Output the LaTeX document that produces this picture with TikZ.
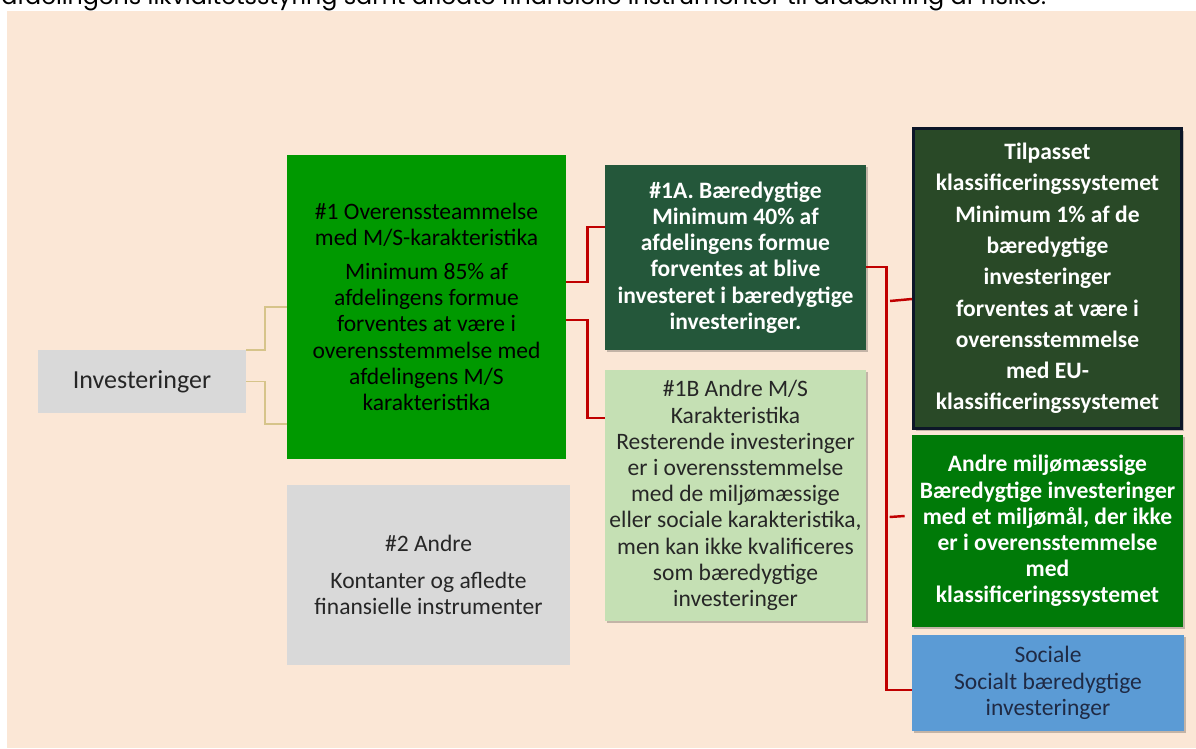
\documentclass[tikz,border=0pt]{standalone}
\usepackage{fontspec}
\setmainfont{Carlito}
\newfontfamily\topfont{Poppins}
\usetikzlibrary{shadows}
\definecolor{cream}{RGB}{251,231,214}
\definecolor{greyc}{RGB}{217,217,217}
\definecolor{greenone}{RGB}{0,153,0}
\definecolor{greenoneA}{RGB}{36,87,58}
\definecolor{greenoneB}{RGB}{197,224,180}
\definecolor{taxc}{RGB}{41,73,39}
\definecolor{navyc}{RGB}{12,22,40}
\definecolor{envc}{RGB}{0,122,8}
\definecolor{socc}{RGB}{91,155,213}
\definecolor{tanc}{RGB}{214,196,138}
\definecolor{redc}{RGB}{192,0,0}
\definecolor{textc}{RGB}{38,38,38}
\definecolor{navytext}{RGB}{31,42,68}
\begin{document}
\begin{tikzpicture}[x=0.02cm,y=-0.02cm,
    box/.style={inner sep=0pt,align=center,text=textc,font=\fontsize{13.4}{14.9}\selectfont},
    whitebox/.style={box,text=white,font=\fontsize{13.4}{14.9}\selectfont\bfseries},
    shade/.style={drop shadow={shadow xshift=1.2pt,shadow yshift=-1.2pt,opacity=0.22,fill=black}},
    tanline/.style={draw=tanc,line width=1.1pt},
    redline/.style={draw=redc,line width=1.4pt}]
    \useasboundingbox (0,0) rectangle (1196,749);
    \fill[white] (0,0) rectangle (1196,749);
    \fill[cream] (7,11) rectangle (1196,748);
    \node[anchor=base west,inner sep=0pt] (note) at (1,5) {\resizebox{20.9cm}{!}{\topfont afdelingens likviditetsstyring samt afledte finansielle instrumenter til afdækning af risiko.}};

    \node[box,fill=greyc,minimum width=4.16cm,minimum height=1.26cm,font=\fontsize{14.8}{17}\selectfont] (invest) at (142,381.5) {Investeringer};
    \node[box,fill=greenone,text=black,minimum width=5.58cm,minimum height=6.08cm] (one) at (426.5,307) {\#1 Overenssteammelse\\med M/S-karakteristika\\[4.3pt]Minimum 85\% af\\afdelingens formue\\forventes at være i\\overensstemmelse med\\afdelingens M/S\\karakteristika};
    \node[box,fill=greyc,minimum width=5.66cm,minimum height=3.6cm] (two) at (428.5,575) {\#2 Andre\\[5.7pt]Kontanter og afledte\\finansielle instrumenter};
    \node[whitebox,shade,fill=greenoneA,minimum width=5.22cm,minimum height=3.7cm] (oneA) at (735.5,257.5) {\#1A. Bæredygtige\\Minimum 40\% af\\afdelingens formue\\forventes at blive\\investeret i bæredygtige\\investeringer.};
    \node[box,shade,fill=greenoneB,minimum width=5.22cm,minimum height=5.02cm] (oneB) at (735.5,495.5) {\#1B Andre M/S\\Karakteristika\\Resterende investeringer\\er i overensstemmelse\\med de miljømæssige\\eller sociale karakteristika,\\men kan ikke kvalificeres\\som bæredygtige\\investeringer};
    \node[whitebox,shade,fill=taxc,draw=navyc,line width=1.7pt,minimum width=5.36cm,minimum height=6.0cm,font=\fontsize{13.4}{17.8}\selectfont\bfseries] (tax) at (1047.5,278.5) {Tilpasset\\klassificeringssystemet\\Minimum 1\% af de\\bæredygtige\\investeringer\\forventes at være i\\overensstemmelse\\med EU-\\klassificeringssystemet};
    \node[whitebox,shade,fill=envc,minimum width=5.42cm,minimum height=3.84cm] (env) at (1047.5,531) {Andre miljømæssige\\Bæredygtige investeringer\\med et miljømål, der ikke\\er i overensstemmelse\\med\\klassificeringssystemet};
    \node[box,shade,fill=socc,text=navytext,minimum width=5.44cm,minimum height=1.92cm] (soc) at (1048,683) {Sociale\\Socialt bæredygtige\\investeringer};

    \draw[tanline] (invest.north east) -- ++(19,0) |- (one.west);
    \draw[tanline] (invest.east) -- ++(19,0) |- ([yshift=-2.34cm]one.west);
    \draw[redline] ([yshift=0.5cm]one.east) -- ++(21,0) |- ([yshift=0.61cm]oneA.west);
    \draw[redline] ([yshift=-0.26cm]one.east) -- ++(21,0) |- ([yshift=1.55cm]oneB.west);
    \draw[redline] ([yshift=-0.19cm]oneA.east) -- ++(20,0) |- ([yshift=-0.14cm]soc.west);
    \draw[redline] ([yshift=-0.41cm]tax.west) -- ++(-22,2);
    \draw[redline] ([xshift=-0.14cm,yshift=0.3cm]env.west) -- ++(-15,1);
\end{tikzpicture}
\end{document}
